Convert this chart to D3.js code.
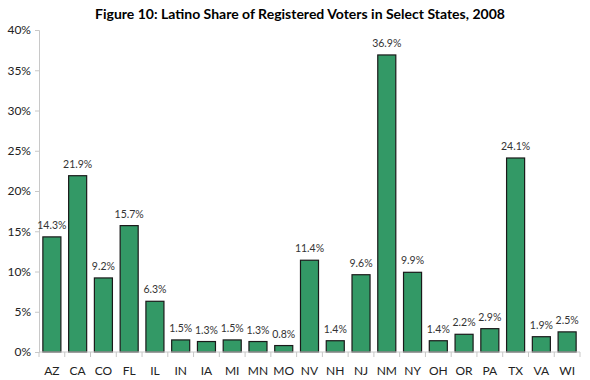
<!DOCTYPE html>
<html><head><meta charset="utf-8">
<script src="https://cdn.jsdelivr.net/npm/d3@7"></script>
<style>body{margin:0;background:#fff}</style>
</head><body><svg id="c" width="590" height="380"></svg>
<script>
const states = ["AZ","CA","CO","FL","IL","IN","IA","MI","MN","MO","NV","NH","NJ","NM","NY","OH","OR","PA","TX","VA","WI"];
const shares = [14.3,21.9,9.2,15.7,6.3,1.5,1.3,1.5,1.3,0.8,11.4,1.4,9.6,36.9,9.9,1.4,2.2,2.9,24.1,1.9,2.5];
const yTicks = [0,5,10,15,20,25,30,35,40];
const title = "Figure 10: Latino Share of Registered Voters in Select States, 2008";

const svg = d3.select("#c");
const font = "Lato, 'Open Sans', sans-serif";
const x = d3.scaleBand().domain(states).range([39,580]).paddingInner(0.3).paddingOuter(0.15);
const xb = d3.scaleBand().domain(states).range([39,580]);
const y = d3.scaleLinear().domain([0,40]).range([352,30]);

svg.append("text").attr("x",300).attr("y",19).attr("text-anchor","middle")
  .attr("font-family",font).attr("font-weight","bold").attr("font-size",14).attr("fill","#000").text(title);

// y axis
const ya = svg.append("g").attr("transform","translate(39,0)")
  .call(d3.axisLeft(y).tickValues(yTicks).tickFormat(d=>d+"%").tickSize(4).tickPadding(4));
ya.select(".domain").attr("stroke","#c8c8c8");
ya.selectAll(".tick line").attr("stroke","#c8c8c8");
ya.selectAll("text").attr("font-family",font).attr("font-size",12).attr("fill","#222");

// bars
svg.selectAll("rect.bar").data(states).enter().append("rect")
  .attr("x",d=>x(d)).attr("width",x.bandwidth())
  .attr("y",(d,i)=>y(shares[i])).attr("height",(d,i)=>y(0)-y(shares[i]))
  .attr("fill","#339966").attr("stroke","#1a1a1a").attr("stroke-width",1.2);

// x axis
const xa = svg.append("g").attr("transform","translate(0,352)");
xa.append("line").attr("x1",39).attr("x2",580).attr("stroke","#c8c8c8");
xa.selectAll("line.t").data(states.concat(["_end"])).enter().append("line")
  .attr("x1",(d,i)=>39+i*xb.bandwidth()).attr("x2",(d,i)=>39+i*xb.bandwidth())
  .attr("y1",0).attr("y2",5).attr("stroke","#c8c8c8");
xa.selectAll("text").data(states).enter().append("text")
  .attr("x",d=>xb(d)+xb.bandwidth()/2).attr("y",23).attr("text-anchor","middle")
  .attr("font-family",font).attr("font-size",12).attr("fill","#222").text(d=>d);

// value labels
svg.selectAll("text.v").data(states).enter().append("text")
  .attr("x",d=>x(d)+x.bandwidth()/2).attr("y",(d,i)=>y(shares[i])-8)
  .attr("text-anchor","middle").attr("font-family",font).attr("font-size",10.5).attr("fill","#333")
  .text((d,i)=>shares[i].toFixed(1)+"%");
</script></body></html>
